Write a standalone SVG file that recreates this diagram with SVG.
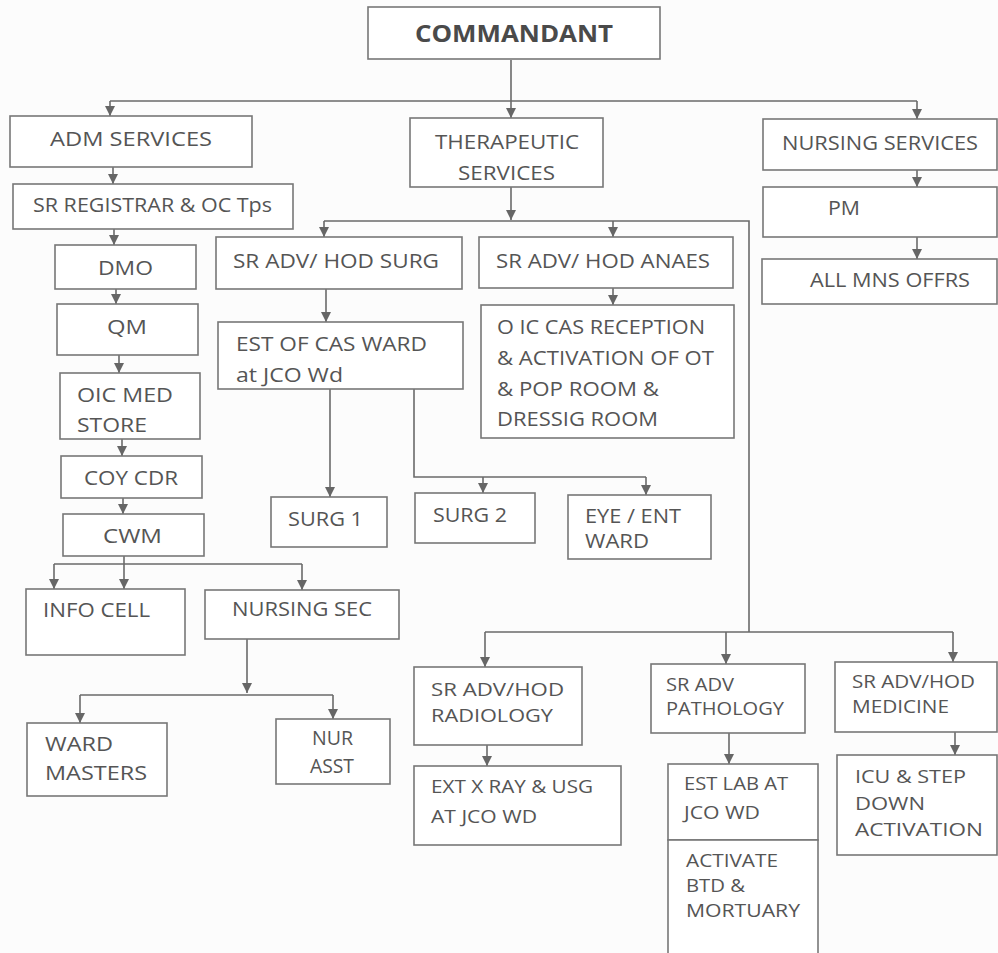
<svg xmlns="http://www.w3.org/2000/svg" width="998" height="953" viewBox="0 0 998 953">
<defs>
<marker id="ah" markerUnits="userSpaceOnUse" markerWidth="10" markerHeight="10" viewBox="0 0 10 10" refX="10" refY="5" orient="auto">
<path d="M0,0 L10,5 L0,10 z" fill="#666"/>
</marker>
<style>
rect{fill:#fff;stroke:#777;stroke-width:1.6}
text{font-family:"Open Sans","Liberation Sans",sans-serif;font-size:20px;fill:#555}
.s{font-size:18px}
.t{font-size:24px;font-weight:bold;fill:#4a4a4a}
#connectors path{fill:none;stroke:#6a6a6a;stroke-width:1.6}
#connectors .a{marker-end:url(#ah)}
</style>
</defs>
<rect x="0" y="0" width="998" height="953" style="fill:#fcfcfc;stroke:none"/>
<g id="connectors">
<path class="a" d="M511,60 V118"/>
<path d="M110,101 H917"/>
<path class="a" d="M110,101 V116"/>
<path class="a" d="M917,101 V119"/>
<path class="a" d="M113,167 V184"/>
<path class="a" d="M114,229 V245"/>
<path class="a" d="M116,289 V304"/>
<path class="a" d="M119,355 V373"/>
<path class="a" d="M122,439 V456"/>
<path class="a" d="M123,498 V514"/>
<path class="a" d="M124,556 V589"/>
<path d="M54,564 H302"/>
<path class="a" d="M54,564 V589"/>
<path class="a" d="M302,564 V590"/>
<path class="a" d="M247,639 V693"/>
<path d="M80,695 H333"/>
<path class="a" d="M80,695 V723"/>
<path class="a" d="M333,695 V719"/>
<path class="a" d="M511,187 V220"/>
<path d="M324,221 H749 V632"/>
<path class="a" d="M324,221 V237"/>
<path class="a" d="M613,221 V237"/>
<path d="M485,632 H953"/>
<path class="a" d="M485,632 V667"/>
<path class="a" d="M726,632 V664"/>
<path class="a" d="M953,632 V662"/>
<path class="a" d="M917,170 V187"/>
<path class="a" d="M917,237 V259"/>
<path class="a" d="M326,289 V322"/>
<path class="a" d="M613,288 V305"/>
<path class="a" d="M330,389 V497"/>
<path d="M414,389 V477 H646"/>
<path class="a" d="M483,477 V493"/>
<path class="a" d="M646,477 V495"/>
<path class="a" d="M487,745 V766"/>
<path class="a" d="M729,733 V764"/>
<path class="a" d="M955,732 V755"/>
</g>
<g id="commandant"><rect x="368" y="7" width="292" height="52"/><text class="t" x="415" y="42" textLength="198" lengthAdjust="spacingAndGlyphs">COMMANDANT</text></g>
<g id="adm"><rect x="10" y="116" width="242" height="51"/><text x="50" y="146" textLength="162" lengthAdjust="spacingAndGlyphs">ADM SERVICES</text></g>
<g id="therapeutic"><rect x="410" y="118" width="193" height="69"/><text x="435" y="149" textLength="144" lengthAdjust="spacingAndGlyphs">THERAPEUTIC</text><text x="458" y="180" textLength="97" lengthAdjust="spacingAndGlyphs">SERVICES</text></g>
<g id="nursing-services"><rect x="763" y="119" width="234" height="51"/><text x="782" y="150" textLength="196" lengthAdjust="spacingAndGlyphs">NURSING SERVICES</text></g>
<g id="sr-registrar"><rect x="13" y="184" width="280" height="45"/><text x="33" y="212" textLength="239" lengthAdjust="spacingAndGlyphs">SR REGISTRAR &amp; OC Tps</text></g>
<g id="dmo"><rect x="55" y="245" width="141" height="44"/><text x="98" y="275" textLength="55" lengthAdjust="spacingAndGlyphs">DMO</text></g>
<g id="pm"><rect x="763" y="187" width="234" height="50"/><text x="828" y="215" textLength="32" lengthAdjust="spacingAndGlyphs">PM</text></g>
<g id="hod-surg"><rect x="216" y="237" width="246" height="52"/><text x="233" y="268" textLength="206" lengthAdjust="spacingAndGlyphs">SR ADV/ HOD SURG</text></g>
<g id="hod-anaes"><rect x="479" y="237" width="254" height="51"/><text x="496" y="268" textLength="214" lengthAdjust="spacingAndGlyphs">SR ADV/ HOD ANAES</text></g>
<g id="all-mns"><rect x="762" y="259" width="235" height="45"/><text x="810" y="287" textLength="160" lengthAdjust="spacingAndGlyphs">ALL MNS OFFRS</text></g>
<g id="qm"><rect x="57" y="304" width="141" height="51"/><text x="107" y="334" textLength="40" lengthAdjust="spacingAndGlyphs">QM</text></g>
<g id="est-cas-ward"><rect x="218" y="322" width="245" height="67"/><text x="236" y="351" textLength="191" lengthAdjust="spacingAndGlyphs">EST OF CAS WARD</text><text x="236" y="382" textLength="107" lengthAdjust="spacingAndGlyphs">at JCO Wd</text></g>
<g id="oic-cas-reception"><rect x="481" y="305" width="253" height="133"/><text x="497" y="334" textLength="208" lengthAdjust="spacingAndGlyphs">O IC CAS RECEPTION</text><text x="497" y="365" textLength="217" lengthAdjust="spacingAndGlyphs">&amp; ACTIVATION OF OT</text><text x="497" y="396" textLength="162" lengthAdjust="spacingAndGlyphs">&amp; POP ROOM &amp;</text><text x="497" y="426" textLength="161" lengthAdjust="spacingAndGlyphs">DRESSIG ROOM</text></g>
<g id="oic-med-store"><rect x="60" y="373" width="140" height="66"/><text x="77" y="402" textLength="96" lengthAdjust="spacingAndGlyphs">OIC MED</text><text x="77" y="432" textLength="70" lengthAdjust="spacingAndGlyphs">STORE</text></g>
<g id="coy-cdr"><rect x="61" y="456" width="141" height="42"/><text x="84" y="485" textLength="94" lengthAdjust="spacingAndGlyphs">COY CDR</text></g>
<g id="cwm"><rect x="63" y="514" width="141" height="42"/><text x="103" y="543" textLength="59" lengthAdjust="spacingAndGlyphs">CWM</text></g>
<g id="surg1"><rect x="271" y="497" width="116" height="50"/><text x="288" y="526" textLength="75" lengthAdjust="spacingAndGlyphs">SURG 1</text></g>
<g id="surg2"><rect x="415" y="493" width="120" height="50"/><text x="433" y="522" textLength="74" lengthAdjust="spacingAndGlyphs">SURG 2</text></g>
<g id="eye-ent"><rect x="568" y="495" width="143" height="64"/><text x="585" y="523" textLength="96" lengthAdjust="spacingAndGlyphs">EYE / ENT</text><text x="585" y="548" textLength="64" lengthAdjust="spacingAndGlyphs">WARD</text></g>
<g id="info-cell"><rect x="26" y="589" width="159" height="66"/><text x="43" y="617" textLength="107" lengthAdjust="spacingAndGlyphs">INFO CELL</text></g>
<g id="nursing-sec"><rect x="205" y="590" width="194" height="49"/><text x="232" y="616" textLength="140" lengthAdjust="spacingAndGlyphs">NURSING SEC</text></g>
<g id="ward-masters"><rect x="27" y="723" width="140" height="73"/><text x="45" y="751" textLength="68" lengthAdjust="spacingAndGlyphs">WARD</text><text x="45" y="780" textLength="102" lengthAdjust="spacingAndGlyphs">MASTERS</text></g>
<g id="nur-asst"><rect x="276" y="719" width="114" height="65"/><text x="312" y="745" textLength="41" lengthAdjust="spacingAndGlyphs">NUR</text><text x="310" y="773" textLength="44" lengthAdjust="spacingAndGlyphs">ASST</text></g>
<g id="hod-radiology"><rect x="414" y="667" width="168" height="78"/><text class="s" x="431" y="696" textLength="133" lengthAdjust="spacingAndGlyphs">SR ADV/HOD</text><text class="s" x="431" y="722" textLength="122" lengthAdjust="spacingAndGlyphs">RADIOLOGY</text></g>
<g id="ext-xray"><rect x="414" y="766" width="207" height="79"/><text class="s" x="431" y="793" textLength="162" lengthAdjust="spacingAndGlyphs">EXT X RAY &amp; USG</text><text class="s" x="431" y="823" textLength="106" lengthAdjust="spacingAndGlyphs">AT JCO WD</text></g>
<g id="adv-pathology"><rect x="651" y="664" width="154" height="69"/><text class="s" x="666" y="691" textLength="68" lengthAdjust="spacingAndGlyphs">SR ADV</text><text class="s" x="666" y="715" textLength="118" lengthAdjust="spacingAndGlyphs">PATHOLOGY</text></g>
<g id="est-lab"><rect x="668" y="764" width="150" height="76"/><text class="s" x="684" y="790" textLength="104" lengthAdjust="spacingAndGlyphs">EST LAB AT</text><text class="s" x="684" y="819" textLength="76" lengthAdjust="spacingAndGlyphs">JCO WD</text></g>
<g id="activate-btd"><rect x="668" y="840" width="150" height="125"/><text class="s" x="686" y="867" textLength="92" lengthAdjust="spacingAndGlyphs">ACTIVATE</text><text class="s" x="686" y="892" textLength="59" lengthAdjust="spacingAndGlyphs">BTD &amp;</text><text class="s" x="686" y="917" textLength="114" lengthAdjust="spacingAndGlyphs">MORTUARY</text></g>
<g id="hod-medicine"><rect x="835" y="662" width="162" height="70"/><text class="s" x="852" y="688" textLength="123" lengthAdjust="spacingAndGlyphs">SR ADV/HOD</text><text class="s" x="852" y="713" textLength="97" lengthAdjust="spacingAndGlyphs">MEDICINE</text></g>
<g id="icu"><rect x="837" y="755" width="160" height="100"/><text class="s" x="855" y="783" textLength="111" lengthAdjust="spacingAndGlyphs">ICU &amp; STEP</text><text class="s" x="855" y="810" textLength="70" lengthAdjust="spacingAndGlyphs">DOWN</text><text class="s" x="855" y="836" textLength="128" lengthAdjust="spacingAndGlyphs">ACTIVATION</text></g>
</svg>
